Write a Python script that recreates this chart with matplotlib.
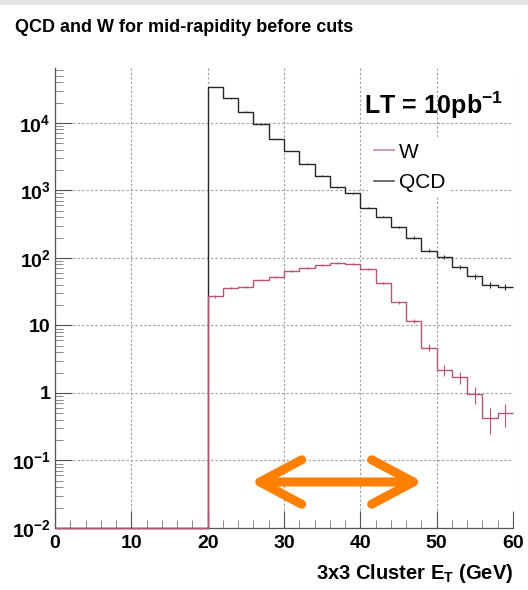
import matplotlib
matplotlib.use("Agg")
import matplotlib.pyplot as plt
import matplotlib.patches as mpatches
from matplotlib.lines import Line2D
from matplotlib.ticker import LogLocator, NullFormatter
import numpy as np

plt.rcParams["font.family"] = ["Liberation Sans", "DejaVu Sans"]
plt.rcParams["mathtext.fontset"] = "custom"
plt.rcParams["mathtext.rm"] = "Liberation Sans:bold"
plt.rcParams["mathtext.bf"] = "Liberation Sans:bold"
plt.rcParams["mathtext.it"] = "Liberation Sans:bold"

# 2 GeV bins from 0 to 60, nothing below 20 GeV
bin_edges = np.arange(0, 62, 2)
qcd_counts = [0] * 10 + [34000, 23000, 14700, 9500, 5800, 3850, 2500, 1640, 1120, 900,
                         556, 410, 288, 200, 128, 103, 74, 54, 40, 37]
qcd_errors = [0] * 10 + [112, 92, 74, 59, 46, 38, 30, 25, 20, 18,
                         14, 12, 10, 8.6, 6.9, 6.2, 5.2, 4.5, 3.8, 3.7]
w_counts = [0] * 10 + [27, 36, 37, 47, 53, 64, 71, 79, 84, 81,
                       68, 43, 22, 11.7, 4.7, 2.2, 1.7, 0.95, 0.42, 0.5]
w_errors = [0] * 10 + [1.4, 1.6, 1.6, 1.8, 1.9, 2.1, 2.2, 2.4, 2.4, 2.4,
                       2.2, 1.7, 1.2, 0.9, 0.57, 0.39, 0.35, 0.26, 0.17, 0.19]

decade_ticks = [1e-2, 1e-1, 1, 10, 1e2, 1e3, 1e4]
decade_labels = [r"$10^{-2}$", r"$10^{-1}$", "1", "10", r"$10^{2}$", r"$10^{3}$", r"$10^{4}$"]
x_ticks = [0, 10, 20, 30, 40, 50, 60]
arrow_span = (25.6, 48.2)

qcd_color = "#262626"
w_color = "#b5566e"
y_min, y_max = 1e-2, 6.5e4

fig = plt.figure(figsize=(5.28, 5.90), dpi=100)
fig.patch.set_facecolor("white")
fig.add_artist(mpatches.Rectangle((0, 1 - 5 / 590), 1, 5 / 590, transform=fig.transFigure,
                                  color="#e4e6e6", lw=0))
ax = fig.add_axes([55 / 528, 1 - 528 / 590, 458 / 528, 460 / 590])
ax.set_yscale("log")
ax.set_xlim(0, 60)
ax.set_ylim(y_min, y_max)

centers = 0.5 * (bin_edges[1:] + bin_edges[:-1])
qcd = np.array(qcd_counts, dtype=float)
w = np.array(w_counts, dtype=float)

ax.stairs(np.where(qcd > 0, qcd, y_min), bin_edges, baseline=None, color=qcd_color, lw=1.0,
          zorder=3, clip_on=False)
mask = qcd > 0
ax.errorbar(centers[mask], qcd[mask], yerr=np.array(qcd_errors)[mask], fmt="none",
            ecolor=qcd_color, elinewidth=0.8, zorder=3)
ax.stairs(np.where(w > 0, w, y_min), bin_edges, baseline=None, color=w_color, lw=1.0,
          zorder=4, clip_on=False)
mask = w > 0
ax.errorbar(centers[mask], w[mask], yerr=np.array(w_errors)[mask], fmt="none",
            ecolor=w_color, elinewidth=0.8, zorder=4)

ax.set_xticks(x_ticks)
ax.set_xticks(np.arange(0, 61, 2), minor=True)
ax.set_yticks(decade_ticks)
ax.set_yticklabels(decade_labels)
ax.yaxis.set_minor_locator(LogLocator(base=10, subs=np.arange(2, 10), numticks=20))
ax.yaxis.set_minor_formatter(NullFormatter())
ax.tick_params(axis="both", which="major", direction="in", length=12, width=0.8,
               color="#555555", labelsize=14)
ax.tick_params(axis="both", which="minor", direction="in", length=6, width=0.7, color="#888888")
ax.tick_params(axis="x", pad=5)
ax.tick_params(axis="y", pad=3)
for lab in ax.get_xticklabels() + ax.get_yticklabels():
    lab.set_fontweight("bold")
ax.grid(which="major", linestyle=(0, (2, 2)), color="#9a9a9a", lw=0.8, zorder=0)
for side in ["top", "right"]:
    ax.spines[side].set_visible(False)
for side in ["left", "bottom"]:
    ax.spines[side].set_color("#555555")
    ax.spines[side].set_linewidth(0.9)

ax.set_xlabel(r"3x3 Cluster E$_{\mathrm{T}}$ (GeV)", loc="right", fontsize=14.5,
              fontweight="bold", labelpad=7)

handles = [Line2D([], [], color="#c89ab8", lw=1.4), Line2D([], [], color="#555555", lw=1.2)]
leg = ax.legend(handles, ["W", "QCD"], loc="upper left",
                bbox_to_anchor=(358 / 528, 1 - 127 / 590), bbox_transform=fig.transFigure,
                frameon=True, facecolor="white", edgecolor="none", framealpha=1,
                fontsize=15, handlelength=1.0, handletextpad=0.2, labelspacing=0.55,
                borderpad=0.25, fancybox=False)
leg.set_zorder(5)

fig.text(503 / 528, 1 - 105 / 590, r"LT = 10pb$^{-1}$", ha="right", va="center",
         fontsize=18, fontweight="bold")
fig.text(15 / 528, 1 - 28 / 590, "QCD and W for mid-rapidity before cuts", ha="left",
         va="center", fontsize=13, fontweight="bold")

ax.annotate("", xy=(arrow_span[0], 0.048), xytext=(arrow_span[1], 0.048),
            arrowprops=dict(arrowstyle="<->,head_length=1.5,head_width=0.8", color="#ff7f00",
                            lw=6.5, mutation_scale=20, capstyle="round", joinstyle="round",
                            shrinkA=0, shrinkB=0),
            zorder=6)

fig.savefig("out.png", dpi=100)
